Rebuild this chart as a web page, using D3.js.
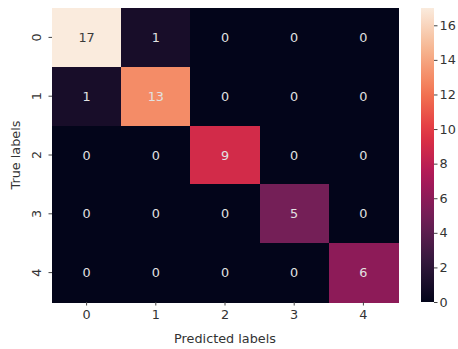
<!DOCTYPE html>
<html><head><meta charset="utf-8">
<script src="https://cdn.jsdelivr.net/npm/d3@7"></script>
<style>body{margin:0;background:#fff}svg{display:block}text{font-family:"DejaVu Sans",sans-serif}</style>
</head><body><div id="c"></div>
<script>
const categories = ["0","1","2","3","4"];
const matrix = [
  [17,1,0,0,0],
  [1,13,0,0,0],
  [0,0,9,0,0],
  [0,0,0,5,0],
  [0,0,0,0,6]
];
const cbarTicks = [0,2,4,6,8,10,12,14,16];
const xTitle = "Predicted labels";
const yTitle = "True labels";

const W = 458, H = 349;
const m = {l:52, t:8, r:398, b:302};
const FS = 12.8;
const svg = d3.select("#c").append("svg").attr("width",W).attr("height",H);

const rocketStops = ["#03051a","#35193e","#701f57","#ad1759","#e13342","#f37651","#f6b48f","#faebdd"];
const rocketPos = [0,1/7,2/7,3/7,4/7,5/7,6/7,1];
const rocket = d3.scaleLinear().domain(rocketPos).range(rocketStops).interpolate(d3.interpolateRgb);
const vmax = d3.max(matrix.flat()), vmin = d3.min(matrix.flat());
const color = v => rocket((v - vmin)/(vmax - vmin));

const x = d3.scaleBand().domain(categories).range([m.l, m.r]);
const y = d3.scaleBand().domain(categories).range([m.t, m.b]);

const cells = [];
matrix.forEach((row,i)=>row.forEach((v,j)=>cells.push({r:categories[i], c:categories[j], v})));

svg.append("g").attr("shape-rendering","crispEdges").selectAll("rect").data(cells).join("rect")
  .attr("x",d=>x(d.c)).attr("y",d=>y(d.r))
  .attr("width",x.bandwidth()+1).attr("height",y.bandwidth()+1)
  .attr("fill",d=>color(d.v));

svg.append("g").selectAll("text").data(cells).join("text")
  .attr("x",d=>x(d.c)+x.bandwidth()/2).attr("y",d=>y(d.r)+y.bandwidth()/2)
  .attr("text-anchor","middle").attr("dominant-baseline","central")
  .attr("font-size",FS)
  .attr("fill",d=> (d.v - vmin)/(vmax-vmin) > 0.85 ? "#3a3a3a" : "#e2e2e2")
  .text(d=>d.v);

// axes
const xAxis = svg.append("g").attr("transform",`translate(0,${m.b})`)
  .call(d3.axisBottom(x).tickSize(3.5).tickPadding(4));
xAxis.select(".domain").remove();
xAxis.selectAll("line").attr("stroke","#444");
xAxis.selectAll("text").attr("font-size",FS).attr("fill","#333").attr("font-family","DejaVu Sans");

const yAxis = svg.append("g").attr("transform",`translate(${m.l},0)`)
  .call(d3.axisLeft(y).tickSize(3.5).tickPadding(0));
yAxis.select(".domain").remove();
yAxis.selectAll("line").attr("stroke","#444");
yAxis.selectAll("text").attr("font-size",FS).attr("fill","#333").attr("font-family","DejaVu Sans")
  .attr("text-anchor","middle").attr("dy",null).attr("dominant-baseline","central")
  .attr("x",0).attr("transform","translate(-16,0) rotate(-90)");

svg.append("text").attr("x",(m.l+m.r)/2).attr("y",338).attr("dominant-baseline","central")
  .attr("text-anchor","middle").attr("font-size",FS).attr("fill","#333").text(xTitle);
svg.append("text").attr("transform",`translate(15,${(m.t+m.b)/2}) rotate(-90)`)
  .attr("dominant-baseline","central")
  .attr("text-anchor","middle").attr("font-size",FS).attr("fill","#333").text(yTitle);

// colorbar
const cb = {x:421, w:13, t:8, b:302};
const cy = d3.scaleLinear().domain([vmin, vmax]).range([cb.b, cb.t]);
const defs = svg.append("defs");
const grad = defs.append("linearGradient").attr("id","g").attr("x1",0).attr("x2",0).attr("y1",1).attr("y2",0);
d3.range(0,1.0001,0.05).forEach(t=>grad.append("stop").attr("offset",t).attr("stop-color",rocket(t)));
svg.append("rect").attr("x",cb.x).attr("y",cb.t).attr("width",cb.w).attr("height",cb.b-cb.t).attr("fill","url(#g)");
const cAxis = svg.append("g").attr("transform",`translate(${cb.x+cb.w},0)`)
  .call(d3.axisRight(cy).tickValues(cbarTicks).tickSize(3.5).tickPadding(2));
cAxis.select(".domain").remove();
cAxis.selectAll("line").attr("stroke","#444");
cAxis.selectAll("text").attr("font-size",FS).attr("fill","#333").attr("font-family","DejaVu Sans");
</script></body></html>
